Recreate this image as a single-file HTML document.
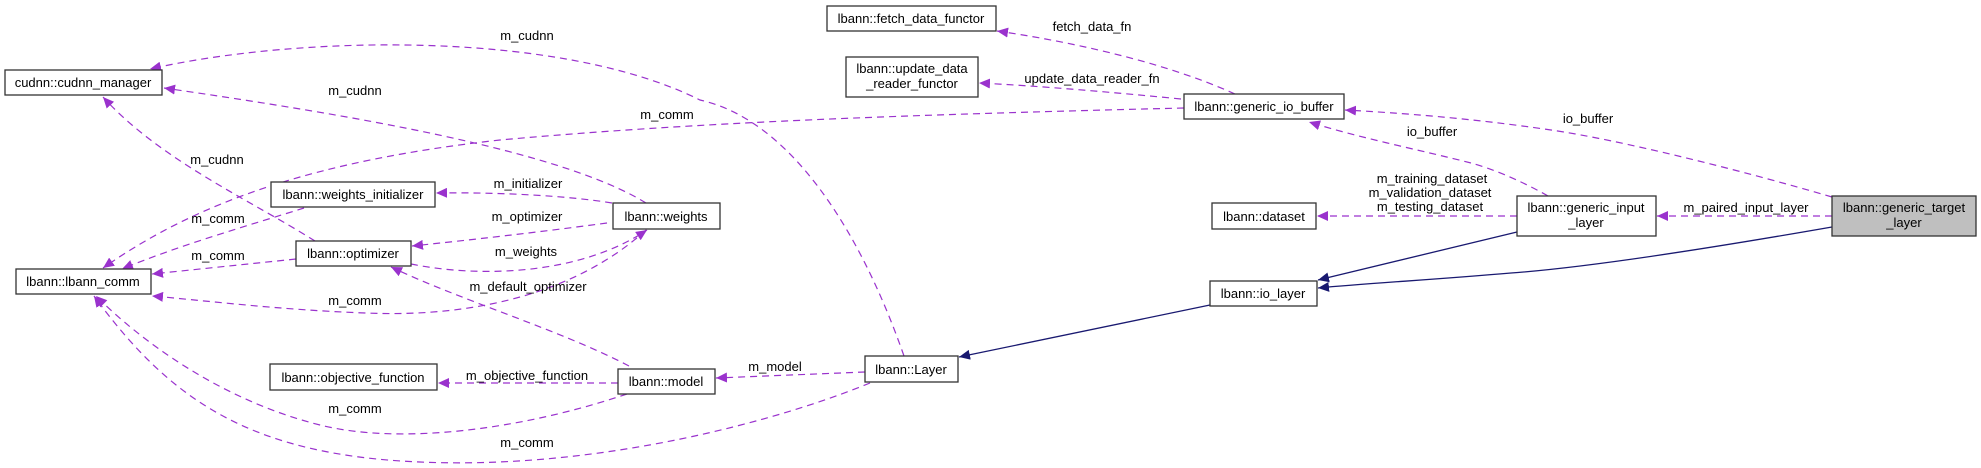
<!DOCTYPE html>
<html><head><meta charset="utf-8"><style>
html,body{margin:0;padding:0;background:#fff;}
svg{display:block;}
text{font-family:"Liberation Sans",sans-serif;font-size:13px;fill:#000;}
</style></head><body>
<svg width="1981" height="468" viewBox="0 0 1981 468" xmlns="http://www.w3.org/2000/svg">
<defs>
<marker id="ap" markerWidth="12" markerHeight="10" refX="11" refY="5" orient="auto" markerUnits="userSpaceOnUse"><path d="M0,0 L11,5 L0,10 Z" fill="#9a32cd"/></marker>
<marker id="an" markerWidth="12" markerHeight="10" refX="11" refY="5" orient="auto" markerUnits="userSpaceOnUse"><path d="M0,0 L11,5 L0,10 Z" fill="#191970"/></marker>
</defs>
<g fill="none" stroke="#9a32cd" stroke-width="1.2" stroke-dasharray="7,5" marker-end="url(#ap)">
<path d="M904,356 C860,230 790,120 700,100 C560,30 300,35 150,69"/>
<path d="M646,203 C560,150 350,115 164,88"/>
<path d="M315,241 C250,200 160,160 103,97"/>
<path d="M1184,108 C900,115 700,122 500,140 C320,160 200,200 103,268"/>
<path d="M304,208 C250,225 180,245 122,269"/>
<path d="M296,259 L152,274"/>
<path d="M646,230 C580,290 480,318 366,313 C280,310 200,300 152,296"/>
<path d="M612,203 C570,196 500,192 436,193"/>
<path d="M607,223 C540,232 470,240 412,246"/>
<path d="M411,264 C480,278 580,275 647,230"/>
<path d="M629,366 C560,330 460,300 391,267"/>
<path d="M618,383 L438,383"/>
<path d="M627,394 C520,430 400,445 320,425 C220,400 140,340 96,296"/>
<path d="M870,383 C780,420 600,470 420,462 C250,455 170,400 94,296"/>
<path d="M865,372 L716,378"/>
<path d="M1235,94 C1160,60 1060,40 997,31"/>
<path d="M1181,99 C1110,92 1040,86 979,83"/>
<path d="M1548,196 C1520,180 1490,168 1471,163 C1420,150 1360,138 1309,122"/>
<path d="M1832,197 C1740,170 1620,140 1551,130 C1470,118 1400,113 1345,110"/>
<path d="M1517,216 L1317,216"/>
<path d="M1832,216 L1657,216"/>
</g>
<g fill="none" stroke="#191970" stroke-width="1.3" marker-end="url(#an)">
<path d="M1517,232 L1318,280"/>
<path d="M1832,227 C1700,250 1580,268 1511,273 C1430,280 1370,283 1318,288"/>
<path d="M1210,305 L959,357"/>
</g>
<g stroke="#333" stroke-width="1.3" fill="#fff">
<rect x="5" y="70" width="157" height="25"/>
<rect x="16" y="269" width="135" height="25"/>
<rect x="271" y="182" width="164" height="25"/>
<rect x="296" y="241" width="115" height="25"/>
<rect x="613" y="203" width="107" height="26"/>
<rect x="270" y="364" width="167" height="26"/>
<rect x="618" y="369" width="97" height="25"/>
<rect x="865" y="356" width="93" height="26"/>
<rect x="827" y="6" width="169" height="25"/>
<rect x="846" y="57" width="132" height="40"/>
<rect x="1184" y="94" width="160" height="25"/>
<rect x="1212" y="203" width="104" height="26"/>
<rect x="1210" y="281" width="107" height="25"/>
<rect x="1517" y="196" width="139" height="40"/>
<rect x="1832" y="196" width="144" height="40" fill="#bfbfbf"/>
</g>
<g text-anchor="middle">
<text x="83" y="87">cudnn::cudnn_manager</text>
<text x="83" y="286">lbann::lbann_comm</text>
<text x="353" y="199">lbann::weights_initializer</text>
<text x="353" y="258">lbann::optimizer</text>
<text x="666" y="221">lbann::weights</text>
<text x="353" y="382">lbann::objective_function</text>
<text x="666" y="386">lbann::model</text>
<text x="911" y="374">lbann::Layer</text>
<text x="911" y="23">lbann::fetch_data_functor</text>
<text x="912" y="73">lbann::update_data</text>
<text x="912" y="88">_reader_functor</text>
<text x="1264" y="111">lbann::generic_io_buffer</text>
<text x="1264" y="221">lbann::dataset</text>
<text x="1263" y="298">lbann::io_layer</text>
<text x="1586" y="212">lbann::generic_input</text>
<text x="1586" y="227">_layer</text>
<text x="1904" y="212">lbann::generic_target</text>
<text x="1904" y="227">_layer</text>
<text x="527" y="40">m_cudnn</text>
<text x="355" y="95">m_cudnn</text>
<text x="667" y="119">m_comm</text>
<text x="217" y="164">m_cudnn</text>
<text x="528" y="188">m_initializer</text>
<text x="218" y="223">m_comm</text>
<text x="527" y="221">m_optimizer</text>
<text x="218" y="260">m_comm</text>
<text x="526" y="256">m_weights</text>
<text x="528" y="291">m_default_optimizer</text>
<text x="355" y="305">m_comm</text>
<text x="527" y="380">m_objective_function</text>
<text x="355" y="413">m_comm</text>
<text x="527" y="447">m_comm</text>
<text x="775" y="371">m_model</text>
<text x="1092" y="31">fetch_data_fn</text>
<text x="1092" y="83">update_data_reader_fn</text>
<text x="1588" y="123">io_buffer</text>
<text x="1432" y="136">io_buffer</text>
<text x="1432" y="183">m_training_dataset</text>
<text x="1430" y="197">m_validation_dataset</text>
<text x="1430" y="211">m_testing_dataset</text>
<text x="1746" y="212">m_paired_input_layer</text>
</g>
</svg>
</body></html>
